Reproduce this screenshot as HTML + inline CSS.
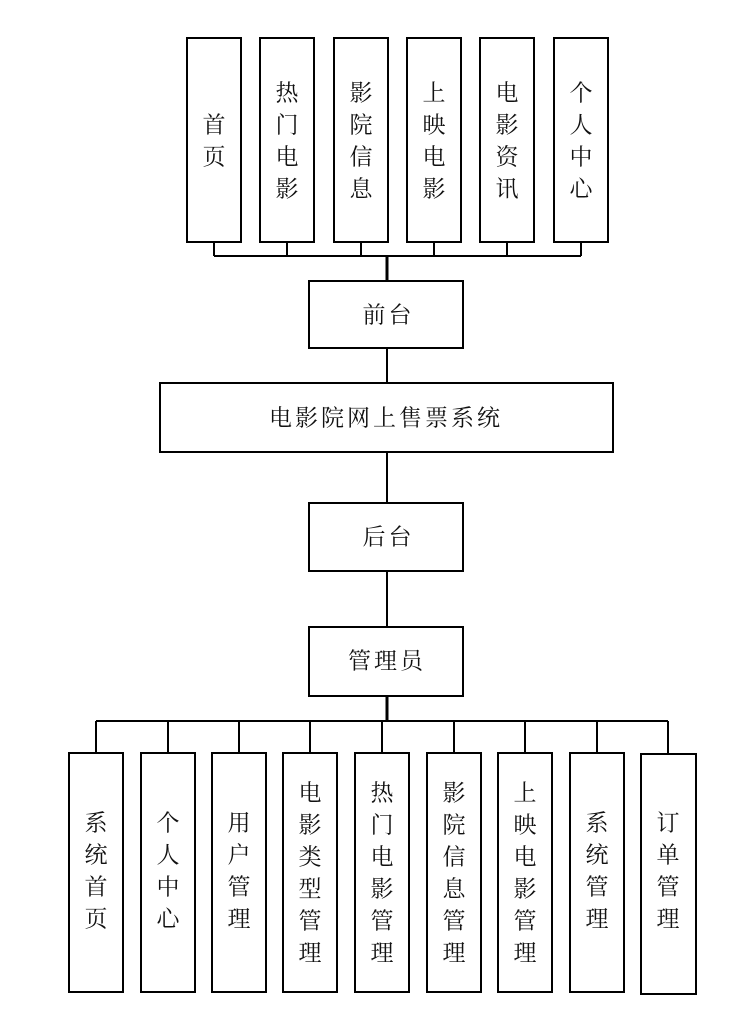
<!DOCTYPE html>
<html><head><meta charset="utf-8"><style>
html,body{margin:0;padding:0;background:#fff;}
svg{display:block;}
text{font-family:"Liberation Serif","Noto Serif CJK SC","Noto Sans CJK SC",serif;font-size:23px;fill:#111;text-anchor:middle;dominant-baseline:central;}
</style></head><body>
<svg width="738" height="1019" viewBox="0 0 738 1019" xmlns="http://www.w3.org/2000/svg">
<g fill="none" stroke="#000" stroke-width="2">
<rect x="187" y="38" width="54" height="204"/>
<rect x="260" y="38" width="54" height="204"/>
<rect x="334" y="38" width="54" height="204"/>
<rect x="407" y="38" width="54" height="204"/>
<rect x="480" y="38" width="54" height="204"/>
<rect x="554" y="38" width="54" height="204"/>
<path d="M214 242V256M287 242V256M361 242V256M434 242V256M507 242V256M581 242V256M214 256H581"/>
<path d="M387 256V281" stroke-width="3"/>
<rect x="309" y="281" width="154" height="67"/>
<path d="M387 348V383"/>
<rect x="160" y="383" width="453" height="69"/>
<path d="M387 452V503"/>
<rect x="309" y="503" width="154" height="68"/>
<path d="M387 571V627"/>
<rect x="309" y="627" width="154" height="69"/>
<path d="M387 696V721" stroke-width="3"/>
<path d="M96 721H668M96 721V753M168 721V753M239 721V753M310 721V753M382 721V753M454 721V753M525 721V753M597 721V753M668 721V754"/>
<rect x="69" y="753" width="54" height="239"/>
<rect x="141" y="753" width="54" height="239"/>
<rect x="212" y="753" width="54" height="239"/>
<rect x="283" y="753" width="54" height="239"/>
<rect x="355" y="753" width="54" height="239"/>
<rect x="427" y="753" width="54" height="239"/>
<rect x="498" y="753" width="54" height="239"/>
<rect x="570" y="753" width="54" height="239"/>
<rect x="641" y="754" width="55" height="240"/>
</g>
<g>
<text x="214" y="125">首</text><text x="214" y="157">页</text>
<text x="287" y="93">热</text><text x="287" y="125">门</text><text x="287" y="157">电</text><text x="287" y="189">影</text>
<text x="361" y="93">影</text><text x="361" y="125">院</text><text x="361" y="157">信</text><text x="361" y="189">息</text>
<text x="434" y="93">上</text><text x="434" y="125">映</text><text x="434" y="157">电</text><text x="434" y="189">影</text>
<text x="507" y="93">电</text><text x="507" y="125">影</text><text x="507" y="157">资</text><text x="507" y="189">讯</text>
<text x="581" y="93">个</text><text x="581" y="125">人</text><text x="581" y="157">中</text><text x="581" y="189">心</text>
<text x="374" y="315">前</text><text x="400" y="315">台</text>
<text x="386" y="418" style="letter-spacing:3px">电影院网上售票系统</text>
<text x="374" y="537">后</text><text x="400" y="537">台</text>
<text x="387" y="661" style="letter-spacing:3px">管理员</text>
<text x="96" y="823">系</text><text x="96" y="855">统</text><text x="96" y="887">首</text><text x="96" y="919">页</text>
<text x="168" y="823">个</text><text x="168" y="855">人</text><text x="168" y="887">中</text><text x="168" y="919">心</text>
<text x="239" y="823">用</text><text x="239" y="855">户</text><text x="239" y="887">管</text><text x="239" y="919">理</text>
<text x="310" y="793">电</text><text x="310" y="825">影</text><text x="310" y="857">类</text><text x="310" y="889">型</text><text x="310" y="921">管</text><text x="310" y="953">理</text>
<text x="382" y="793">热</text><text x="382" y="825">门</text><text x="382" y="857">电</text><text x="382" y="889">影</text><text x="382" y="921">管</text><text x="382" y="953">理</text>
<text x="454" y="793">影</text><text x="454" y="825">院</text><text x="454" y="857">信</text><text x="454" y="889">息</text><text x="454" y="921">管</text><text x="454" y="953">理</text>
<text x="525" y="793">上</text><text x="525" y="825">映</text><text x="525" y="857">电</text><text x="525" y="889">影</text><text x="525" y="921">管</text><text x="525" y="953">理</text>
<text x="597" y="823">系</text><text x="597" y="855">统</text><text x="597" y="887">管</text><text x="597" y="919">理</text>
<text x="668" y="823">订</text><text x="668" y="855">单</text><text x="668" y="887">管</text><text x="668" y="919">理</text>
</g>
</svg>
</body></html>
